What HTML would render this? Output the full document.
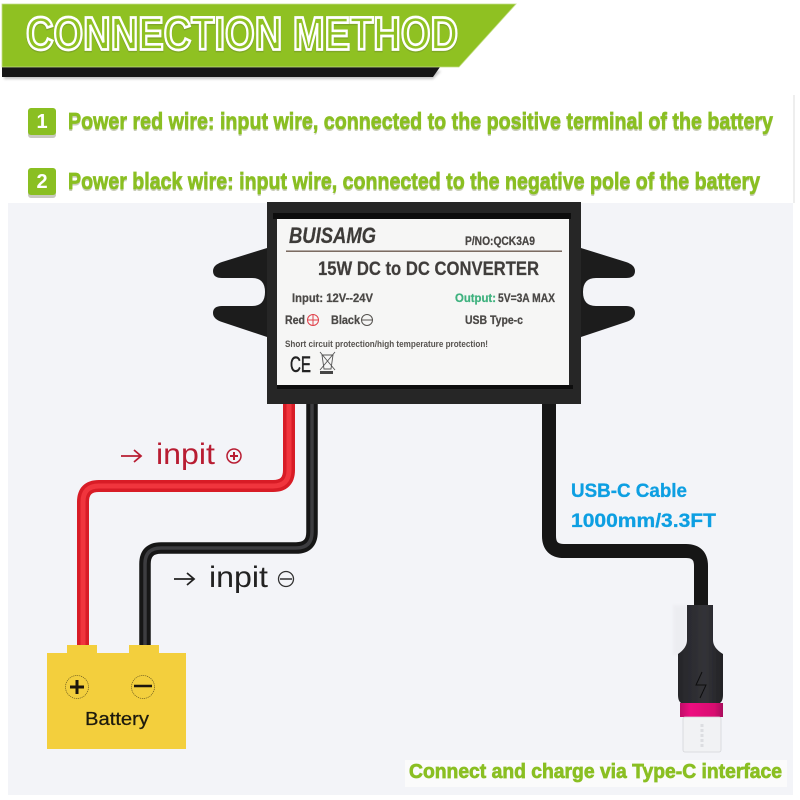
<!DOCTYPE html>
<html>
<head>
<meta charset="utf-8">
<style>
html,body{margin:0;padding:0;background:#fff;width:800px;height:800px;overflow:hidden}
svg{display:block}
text{font-family:"Liberation Sans",sans-serif}
.g{stroke:#8abf22;stroke-width:.7}
.d{stroke:#4b4846;stroke-width:.25}
.u{stroke:#0f9fe2;stroke-width:.3}
</style>
</head>
<body>
<svg width="800" height="800" viewBox="0 0 800 800" xmlns="http://www.w3.org/2000/svg">
<defs>
<filter id="all" x="0" y="0" width="100%" height="100%"><feGaussianBlur stdDeviation="0.35"/></filter>
<filter id="s" x="-10%" y="-30%" width="120%" height="160%"><feGaussianBlur stdDeviation="1.2"/></filter>
<linearGradient id="body" x1="0" x2="1" y1="0" y2="0"><stop offset="0" stop-color="#26262a"/><stop offset=".6" stop-color="#333338"/><stop offset="1" stop-color="#222225"/></linearGradient>
<linearGradient id="pink" x1="0" x2="1" y1="0" y2="0"><stop offset="0" stop-color="#c00a68"/><stop offset=".25" stop-color="#ee1080"/><stop offset=".8" stop-color="#d80c70"/><stop offset="1" stop-color="#a80a5c"/></linearGradient>
</defs>
<g filter="url(#all)">
<rect width="800" height="800" fill="#fff"/>
<!-- banner -->
<polygon points="4,79 433,79 441,71 4,71" fill="#999" filter="url(#s)" opacity=".6"/>
<polygon points="2,67 440,67 433,77 2,77" fill="#181818"/>
<polygon points="2,4 516,4 459,67 2,67" fill="#8fc121" stroke="#c4de88" stroke-width=".8"/>
<text x="26" y="50.5" font-size="46" font-weight="bold" fill="none" stroke="#6f8f30" stroke-width="3.4" opacity=".5" textLength="432" lengthAdjust="spacingAndGlyphs">CONNECTION METHOD</text>
<text x="26" y="49.5" font-size="46" font-weight="bold" fill="#8fc121" stroke="#fff" stroke-width="2.7" textLength="432" lengthAdjust="spacingAndGlyphs">CONNECTION METHOD</text>

<!-- numbered lines -->
<rect x="28" y="112" width="28" height="26" rx="3" fill="#c9c9c0"/>
<rect x="28" y="108" width="28" height="27" rx="3" fill="#8abf22"/>
<text x="42" y="128" font-size="20" font-weight="bold" fill="#fff" text-anchor="middle">1</text>
<text x="68" y="131" font-size="23" font-weight="bold" fill="#c9cdb8" textLength="705" lengthAdjust="spacingAndGlyphs">Power red wire: input wire, connected to the positive terminal of the battery</text>
<text class="g" x="68" y="129" font-size="23" font-weight="bold" fill="#8abf22" textLength="705" lengthAdjust="spacingAndGlyphs">Power red wire: input wire, connected to the positive terminal of the battery</text>
<rect x="28" y="172" width="28" height="26" rx="3" fill="#c9c9c0"/>
<rect x="28" y="168" width="28" height="27" rx="3" fill="#8abf22"/>
<text x="42" y="188" font-size="20" font-weight="bold" fill="#fff" text-anchor="middle">2</text>
<text x="68" y="191" font-size="23" font-weight="bold" fill="#c9cdb8" textLength="692" lengthAdjust="spacingAndGlyphs">Power black wire: input wire, connected to the negative pole of the battery</text>
<text class="g" x="68" y="189" font-size="23" font-weight="bold" fill="#8abf22" textLength="692" lengthAdjust="spacingAndGlyphs">Power black wire: input wire, connected to the negative pole of the battery</text>

<!-- panel -->
<rect x="8" y="203" width="785" height="592" fill="#f3f4f8"/>
<line x1="794" y1="95" x2="794" y2="203" stroke="#ddd" stroke-width="1"/>

<!-- wires -->
<path d="M289 400V470Q289 486 273 486H99Q83 486 83 502V648" fill="none" stroke="#d81c26" stroke-width="12"/>
<path d="M289 400V470Q289 486 273 486H99Q83 486 83 502V648" fill="none" stroke="#f0343c" stroke-width="5"/>
<path d="M312 400V532Q312 548 296 548H161Q145 548 145 564V648" fill="none" stroke="#151517" stroke-width="11.5"/>
<path d="M312 400V532Q312 548 296 548H161Q145 548 145 564V648" fill="none" stroke="#3c3c40" stroke-width="3.5"/>
<path d="M549 400V536Q549 551 564 551H686Q701 551 701 566V610" fill="none" stroke="#151517" stroke-width="14"/>

<!-- device ears -->
<path d="M267 248L222 262Q213 265 213 271Q213 278 222 278H252Q265 278 265 292Q265 306 252 306H222Q213 306 213 313Q213 319 222 322L267 337Z" fill="#1d1d1f"/>
<path d="M581 248L626 262Q635 265 635 271Q635 278 626 278H596Q583 278 583 292Q583 306 596 306H626Q635 306 635 313Q635 319 626 322L581 337Z" fill="#1d1d1f"/>

<!-- device -->
<rect x="267" y="202" width="314" height="202" fill="#262628"/>
<rect x="273" y="213" width="298" height="6" fill="#0c0c0c"/>
<rect x="277" y="219" width="292" height="166" fill="#f6f6f5"/>
<rect x="277" y="385" width="296" height="4" fill="#0c0c0c"/>
<text class="d" x="289" y="243" font-size="22" font-weight="bold" font-style="italic" fill="#3e3a38" textLength="87" lengthAdjust="spacingAndGlyphs">BUISAMG</text>
<text class="d" x="465" y="245" font-size="11.5" font-weight="bold" fill="#4a4644" textLength="70" lengthAdjust="spacingAndGlyphs">P/NO:QCK3A9</text>
<rect x="286" y="250.5" width="276" height="1.4" fill="#6e5c52"/>
<text class="d" x="318" y="275" font-size="19" font-weight="bold" fill="#3f3c3a" textLength="221" lengthAdjust="spacingAndGlyphs">15W DC to DC CONVERTER</text>
<text class="d" x="292" y="302" font-size="11.5" font-weight="bold" fill="#4b4846" textLength="81" lengthAdjust="spacingAndGlyphs">Input: 12V--24V</text>
<text x="455" y="302" font-size="11.5" font-weight="bold" fill="#3fb27f" stroke="#3fb27f" stroke-width=".25" textLength="41" lengthAdjust="spacingAndGlyphs">Output:</text>
<text class="d" x="498" y="302" font-size="11.5" font-weight="bold" fill="#4b4846" textLength="57" lengthAdjust="spacingAndGlyphs">5V=3A MAX</text>
<text class="d" x="285" y="324" font-size="11.5" font-weight="bold" fill="#4b4846" textLength="20" lengthAdjust="spacingAndGlyphs">Red</text>
<g fill="none" stroke="#e0404a" stroke-width="1"><circle cx="313" cy="320" r="5.5"/><path d="M308 320H318M313 315V325"/></g>
<text class="d" x="331" y="324" font-size="11.5" font-weight="bold" fill="#4b4846" textLength="29" lengthAdjust="spacingAndGlyphs">Black</text>
<g fill="none" stroke="#55524f" stroke-width="1"><circle cx="367" cy="320" r="5.5"/><path d="M362 320H372"/></g>
<text class="d" x="465" y="324" font-size="11.5" font-weight="bold" fill="#4b4846" textLength="58" lengthAdjust="spacingAndGlyphs">USB Type-c</text>
<text x="285" y="347" font-size="9.5" fill="#56524f" font-weight="bold" textLength="203" lengthAdjust="spacingAndGlyphs">Short circuit protection/high temperature protection!</text>
<text x="290" y="372" font-size="22" fill="#222" stroke="#222" stroke-width=".5" textLength="21" lengthAdjust="spacingAndGlyphs">CE</text>
<g fill="none" stroke="#555" stroke-width=".9"><path d="M322 355H333L331 369H324ZM320 352L335 370M335 352L320 370"/></g>
<rect x="320" y="371" width="13" height="3" fill="#444"/>

<!-- inpit labels -->
<path d="M121 456H141M134 450L141 456L134 462" fill="none" stroke="#b81e32" stroke-width="1.8"/>
<text x="156" y="464" font-size="30" fill="#b81e32" textLength="59" lengthAdjust="spacingAndGlyphs">inpit</text>
<circle cx="234" cy="456" r="7" fill="none" stroke="#b81e32" stroke-width="1.5"/>
<path d="M230 456H238M234 452V460" stroke="#b81e32" stroke-width="2" fill="none"/>
<path d="M174 579H194M187 573L194 579L187 585" fill="none" stroke="#222" stroke-width="1.8"/>
<text x="209" y="587" font-size="30" fill="#222" textLength="59" lengthAdjust="spacingAndGlyphs">inpit</text>
<circle cx="286" cy="579" r="7.5" fill="none" stroke="#333" stroke-width="1.3"/>
<path d="M280 579H292" stroke="#333" stroke-width="1.5" fill="none"/>

<!-- USB text -->
<text class="u" x="571" y="497" font-size="19" font-weight="bold" fill="#0f9fe2" textLength="116" lengthAdjust="spacingAndGlyphs">USB-C Cable</text>
<text class="u" x="571" y="527" font-size="19" font-weight="bold" fill="#0f9fe2" textLength="145" lengthAdjust="spacingAndGlyphs">1000mm/3.3FT</text>

<!-- battery -->
<rect x="67" y="645" width="30" height="9" fill="#f3cf3c"/>
<rect x="129" y="645" width="30" height="9" fill="#f3cf3c"/>
<rect x="47" y="653" width="139" height="96" fill="#f3cf3c"/>
<circle cx="77" cy="687" r="11.5" fill="none" stroke="#6a5a20" stroke-width=".7" stroke-dasharray="1.2 .8"/>
<path d="M70 687H84M77 680V694" stroke="#1a1508" stroke-width="3" fill="none"/>
<circle cx="143" cy="687" r="11.5" fill="none" stroke="#6a5a20" stroke-width=".7" stroke-dasharray="1.2 .8"/>
<path d="M134 686H152" stroke="#1a1508" stroke-width="2.4" fill="none"/>
<text x="117" y="725" font-size="18" fill="#1e1a0c" stroke="#1e1a0c" stroke-width=".25" text-anchor="middle" textLength="64" lengthAdjust="spacingAndGlyphs">Battery</text>

<!-- USB connector -->
<rect x="673" y="605" width="14" height="50" fill="#e9e9ee" filter="url(#s)" opacity=".6"/>
<path d="M687 605H713V640Q713 648 723 654V695Q723 704 716 704H685Q678 704 678 695V654Q687 648 687 640Z" fill="url(#body)"/>
<rect x="680" y="703" width="43" height="14" fill="url(#pink)"/>
<rect x="683" y="717" width="38" height="35" rx="2" fill="#f1f2f4" stroke="#d4d5d9" stroke-width=".8"/>
<path d="M702 724V748" stroke="#dcdde1" stroke-width="3" fill="none" stroke-dasharray="3 2"/>
<path d="M702 672L696 685H706L700 698" fill="none" stroke="#0f0f10" stroke-width="1"/>

<!-- footer caption -->
<rect x="405" y="760" width="382" height="27" fill="#fbfbfb"/>
<text class="g" x="409" y="778" font-size="20" font-weight="bold" fill="#8abf22" textLength="373" lengthAdjust="spacingAndGlyphs">Connect and charge via Type-C interface</text>
</g>
</svg>
</body>
</html>
